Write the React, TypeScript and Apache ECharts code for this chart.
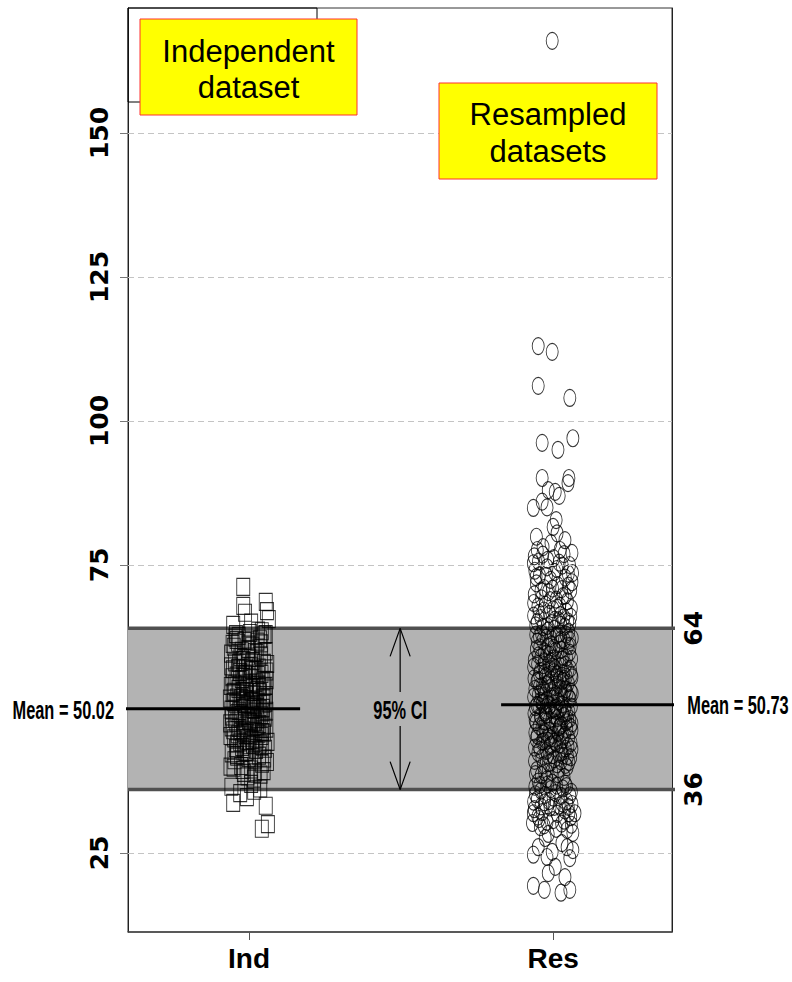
import React, { useEffect, useRef } from "react";
import * as echarts from "echarts";

const categories = ["Ind", "Res"];
const categoryPositions = [1, 2];
const yTickValues = [25, 75, 100, 125, 150];
const ciBounds = [36, 64];
const means = [50.02, 50.73];
const ciLabel = "95% CI";
const boxTexts = ["Independent\ndataset", "Resampled\ndatasets"];

// [jitter, value] for the independent dataset
const indPoints: number[][] = [
  [-0.019, 71.2], [-0.019, 67.9], [0.055, 68.6], [-0.013, 66.7], [0.059, 67.0], [0.065, 65.6], [-0.052, 64.6], [0.007, 65.0], [0.042, 63.5], [-0.043, 63.0],
  [-0.052, 33.7], [-0.007, 34.7], [0.055, 33.2], [0.042, 29.2], [0.062, 30.0], [-0.029, 35.4], [0.017, 35.8], [-0.058, 36.5], [0.037, 36.2], [0.007, 37.0],
  [-0.061, 45.3], [-0.054, 52.8], [-0.046, 58.1], [-0.039, 41.7], [-0.032, 49.6], [-0.024, 55.2], [-0.017, 38.9], [-0.009, 47.1], [-0.002, 60.4], [0.006, 51.3], [0.013, 43.8], [0.021, 56.7], [0.028, 48.2], [0.036, 62.1], [0.043, 40.5], [0.05, 53.9], [0.057, 46.6],
  [-0.059, 57.4], [-0.051, 39.8], [-0.044, 50.9], [-0.036, 61.5], [-0.029, 44.2], [-0.021, 53.1], [-0.014, 47.9], [-0.006, 42.6], [0.001, 58.8], [0.009, 49.0], [0.016, 37.9], [0.024, 54.6], [0.031, 45.7], [0.039, 59.3], [0.046, 50.2], [0.053, 43.1],
  [-0.063, 51.8], [-0.056, 48.7], [-0.049, 44.9], [-0.041, 55.8], [-0.034, 62.7], [-0.026, 40.1], [-0.019, 52.2], [-0.011, 57.0], [-0.004, 45.0], [0.004, 54.1], [0.011, 61.0], [0.019, 41.2], [0.026, 50.6], [0.034, 47.4], [0.041, 56.1], [0.048, 39.2], [0.055, 60.0],
  [-0.057, 42.3], [-0.05, 60.8], [-0.042, 47.6], [-0.035, 53.5], [-0.027, 46.1], [-0.02, 58.5], [-0.012, 50.4], [-0.005, 38.3], [0.003, 63.2], [0.01, 44.6], [0.018, 52.5], [0.025, 59.7], [0.033, 41.9], [0.04, 48.9], [0.047, 54.8], [0.054, 51.1], [0.06, 57.8],
  [-0.06, 54.0], [-0.052, 46.3], [-0.045, 62.4], [-0.038, 49.3], [-0.03, 56.4], [-0.023, 43.4], [-0.015, 61.8], [-0.008, 53.7], [0.0, 48.0], [0.007, 39.5], [0.015, 46.9], [0.022, 51.6], [0.03, 63.6], [0.037, 44.0], [0.045, 52.0], [0.052, 48.5], [0.059, 40.8],
  [-0.058, 49.9], [-0.047, 54.3], [-0.037, 45.6], [-0.028, 59.0], [-0.016, 51.0], [-0.007, 44.4], [0.002, 55.5], [0.014, 50.0], [0.023, 42.9], [0.032, 57.2], [0.044, 49.4], [0.051, 62.9], [0.058, 55.0],
  [-0.053, 56.9], [-0.04, 42.0], [-0.031, 51.5], [-0.018, 46.4], [-0.001, 61.2], [0.008, 53.0], [0.02, 47.8], [0.029, 55.9], [0.038, 38.6], [0.049, 45.9], [0.056, 52.4],
  [-0.062, 47.5], [-0.055, 55.5], [-0.048, 41.1], [-0.04, 52.0], [-0.033, 58.0], [-0.025, 49.0], [-0.017, 43.0], [-0.01, 54.4], [-0.003, 50.8], [0.005, 45.4], [0.012, 58.3], [0.02, 39.0], [0.027, 53.3], [0.035, 50.1], [0.042, 43.6], [0.049, 58.0], [0.057, 49.7],
  [-0.061, 40.0], [-0.054, 61.3], [-0.046, 48.3], [-0.039, 44.0], [-0.032, 53.9], [-0.024, 60.1], [-0.017, 45.8], [-0.009, 51.7], [-0.002, 41.5], [0.006, 57.5], [0.013, 53.6], [0.021, 46.2], [0.028, 61.7], [0.036, 52.9], [0.043, 46.0], [0.05, 41.4], [0.057, 56.5],
  [-0.059, 59.6], [-0.051, 51.2], [-0.043, 43.2], [-0.036, 57.1], [-0.028, 48.5], [-0.021, 39.4], [-0.013, 56.0], [-0.005, 48.8], [0.002, 43.7], [0.01, 56.8], [0.017, 50.4], [0.025, 44.7], [0.032, 54.2], [0.04, 61.4], [0.047, 47.0], [0.054, 54.0], [0.061, 44.3],
  [-0.057, 46.8], [-0.049, 53.0], [-0.041, 62.0], [-0.034, 46.7], [-0.026, 51.9], [-0.019, 55.6], [-0.011, 42.5], [-0.004, 59.1], [0.004, 47.7], [0.011, 51.4], [0.019, 59.9], [0.026, 47.0], [0.034, 53.8], [0.041, 45.3], [0.048, 50.9], [0.055, 63.0],
];

// [jitter, value] for the resampled datasets
const resPoints: number[][] = [
  [-0.003, 166.0], [-0.049, 113.0], [-0.003, 112.0], [-0.049, 106.1], [0.055, 104.0], [0.065, 97.0], [-0.036, 96.2], [0.016, 95.0],
  [-0.036, 90.1], [0.052, 90.1], [0.049, 89.2], [-0.016, 88.0], [0.007, 87.7], [0.02, 87.0], [-0.065, 84.9], [-0.036, 86.0], [-0.02, 85.0],
  [0.01, 82.8], [0.0, 81.6], [0.013, 80.5], [-0.055, 79.9], [0.039, 79.3], [0.062, 77.1], [-0.052, 77.6], [-0.033, 78.1], [-0.007, 78.8], [0.023, 77.6], [-0.065, 75.3], [0.062, 72.0],
  [-0.065, 19.3], [-0.029, 18.6], [0.026, 18.1], [0.055, 18.6], [-0.016, 21.5], [0.039, 20.8], [0.007, 22.6], [-0.065, 24.7], [-0.02, 24.3], [0.055, 24.1], [0.065, 25.5],
  [-0.049, 26.0], [0.029, 26.7], [-0.003, 25.2], [-0.042, 29.5], [0.046, 29.0], [-0.068, 30.2], [0.072, 31.9], [-0.065, 31.9], [0.0, 30.7], [-0.026, 27.6], [0.046, 26.0], [0.065, 28.5],
  [-0.06, 74.0], [-0.045, 73.2], [-0.02, 74.6], [0.005, 73.8], [0.03, 74.9], [0.05, 73.5], [-0.055, 71.8], [-0.03, 71.0], [-0.008, 72.4], [0.015, 71.5], [0.04, 72.8], [0.058, 70.6],
  [-0.062, 69.9], [-0.038, 69.2], [-0.015, 70.3], [0.01, 69.0], [0.028, 70.8], [0.047, 68.7], [-0.05, 67.8], [-0.025, 68.1], [0.0, 67.3], [0.022, 67.9], [0.044, 66.9], [0.06, 67.5],
  [-0.064, 66.2], [-0.04, 65.8], [-0.012, 66.5], [0.018, 65.4], [0.035, 65.9], [0.055, 64.8], [-0.057, 64.5], [-0.033, 64.2], [-0.005, 64.9], [0.026, 64.6], [0.048, 65.2],
  [-0.06, 36.5], [-0.04, 35.8], [-0.018, 36.9], [0.008, 35.4], [0.032, 36.2], [0.055, 35.0], [-0.052, 34.3], [-0.028, 33.8], [0.0, 34.6], [0.02, 33.2], [0.045, 34.0], [0.062, 33.5],
  [-0.062, 32.6], [-0.036, 32.1], [-0.01, 32.9], [0.014, 31.8], [0.038, 32.4], [0.058, 31.2], [-0.046, 30.9], [-0.02, 30.4], [0.028, 30.1], [0.05, 33.0], [-0.003, 37.2], [0.04, 37.0],
  [-0.064, 52.1], [-0.056, 44.8], [-0.048, 59.3], [-0.04, 48.6], [-0.032, 40.2], [-0.024, 55.7], [-0.016, 50.9], [-0.008, 62.3], [0.0, 45.5], [0.008, 53.8], [0.016, 38.7], [0.024, 57.4], [0.032, 49.2], [0.04, 43.1], [0.048, 61.0], [0.056, 51.7], [0.062, 46.3],
  [-0.062, 58.5], [-0.054, 39.4], [-0.046, 47.0], [-0.038, 63.1], [-0.03, 53.2], [-0.022, 42.7], [-0.014, 57.9], [-0.006, 49.8], [0.002, 60.6], [0.01, 44.0], [0.018, 51.3], [0.026, 40.9], [0.034, 56.2], [0.042, 47.7], [0.05, 54.5], [0.058, 41.6],
  [-0.06, 45.9], [-0.052, 61.7], [-0.044, 53.9], [-0.036, 44.3], [-0.028, 60.0], [-0.02, 37.8], [-0.012, 48.1], [-0.004, 55.0], [0.004, 41.3], [0.012, 62.8], [0.02, 46.8], [0.028, 52.6], [0.036, 38.2], [0.044, 58.9], [0.052, 49.5], [0.06, 55.9],
  [-0.058, 50.3], [-0.05, 42.4], [-0.042, 56.6], [-0.034, 51.1], [-0.026, 46.0], [-0.018, 63.6], [-0.01, 43.7], [-0.002, 52.9], [0.006, 57.1], [0.014, 48.4], [0.022, 61.4], [0.03, 44.6], [0.038, 50.0], [0.046, 39.9], [0.054, 59.8], [0.062, 47.5],
  [-0.063, 55.3], [-0.047, 50.6], [-0.039, 38.5], [-0.031, 57.6], [-0.023, 49.0], [-0.015, 40.6], [-0.007, 58.2], [0.001, 51.8], [0.009, 47.3], [0.017, 54.2], [0.025, 62.0], [0.033, 45.2], [0.041, 53.4], [0.049, 43.5], [0.057, 57.0],
  [-0.061, 41.0], [-0.053, 54.8], [-0.045, 62.6], [-0.037, 46.6], [-0.029, 52.3], [-0.021, 59.6], [-0.013, 45.1], [-0.005, 39.1], [0.003, 56.4], [0.011, 50.5], [0.019, 42.2], [0.027, 60.3], [0.035, 48.8], [0.043, 55.6], [0.051, 63.4], [0.059, 44.1],
  [-0.059, 48.0], [-0.051, 57.8], [-0.043, 42.9], [-0.035, 54.0], [-0.027, 49.4], [-0.019, 44.5], [-0.011, 53.6], [-0.003, 47.2], [0.005, 63.9], [0.013, 40.4], [0.021, 55.1], [0.029, 50.8], [0.037, 61.9], [0.045, 46.5], [0.053, 51.9], [0.061, 58.7],
  [-0.057, 62.9], [-0.041, 51.4], [-0.025, 47.8], [-0.009, 56.9], [0.007, 49.7], [0.023, 43.9], [0.039, 53.1], [0.055, 48.3], [-0.049, 37.4], [-0.017, 60.9], [0.015, 58.4], [0.047, 41.8], [-0.033, 45.7], [0.031, 54.9], [-0.001, 42.0], [0.063, 52.7],
  [-0.063, 49.2], [-0.055, 60.4], [-0.047, 43.6], [-0.039, 52.8], [-0.031, 47.9], [-0.023, 62.4], [-0.015, 54.6], [-0.007, 44.9], [0.001, 58.8], [0.009, 50.2], [0.017, 45.8], [0.025, 53.6], [0.033, 59.1], [0.041, 40.3], [0.049, 56.7], [0.057, 46.9], [0.063, 62.3],
  [-0.061, 43.3], [-0.053, 50.7], [-0.045, 56.1], [-0.037, 41.5], [-0.029, 58.3], [-0.021, 51.6], [-0.013, 46.2], [-0.005, 61.2], [0.003, 48.9], [0.011, 55.4], [0.019, 39.6], [0.027, 47.2], [0.035, 52.1], [0.043, 62.9], [0.051, 45.0], [0.059, 53.0],
  [-0.064, 57.3], [-0.056, 47.7], [-0.048, 52.5], [-0.04, 59.0], [-0.032, 44.4], [-0.024, 49.7], [-0.016, 55.9], [-0.008, 40.7], [0.0, 52.3], [0.008, 60.1], [0.016, 46.0], [0.024, 50.0], [0.032, 41.9], [0.04, 57.7], [0.048, 48.1], [0.056, 60.9], [0.062, 43.0],
  [-0.06, 53.5], [-0.052, 45.4], [-0.044, 60.7], [-0.036, 50.9], [-0.028, 39.0], [-0.02, 54.3], [-0.012, 59.4], [-0.004, 43.8], [0.004, 50.0], [0.012, 56.0], [0.02, 63.1], [0.028, 42.5], [0.036, 55.2], [0.044, 49.3], [0.052, 40.8], [0.06, 50.4],
  [-0.058, 38.7], [-0.05, 55.0], [-0.042, 48.8], [-0.034, 61.8], [-0.026, 56.3], [-0.018, 42.0], [-0.01, 50.6], [-0.002, 57.4], [0.006, 44.3], [0.014, 52.2], [0.022, 47.0], [0.03, 58.6], [0.038, 45.5], [0.046, 52.8], [0.054, 62.0], [0.062, 55.5],
  [-0.062, 76.5], [-0.048, 75.6], [-0.034, 76.8], [-0.018, 75.9], [0.002, 76.2], [0.02, 75.4], [0.036, 76.9], [0.054, 75.0], [-0.056, 72.9], [-0.04, 70.5], [-0.022, 73.1], [-0.002, 70.9], [0.012, 74.3], [0.032, 69.6],
  [0.05, 71.4], [0.064, 73.6], [-0.064, 68.4], [-0.046, 66.7], [-0.03, 67.1], [-0.01, 68.9], [0.006, 65.5], [0.024, 66.3], [0.04, 69.7], [0.058, 66.0], [-0.052, 65.1], [-0.02, 64.4], [0.014, 67.6], [0.038, 64.3],
  [-0.058, 35.2], [-0.044, 36.8], [-0.026, 35.1], [-0.008, 36.1], [0.012, 36.7], [0.026, 34.9], [0.044, 36.6], [0.06, 35.6], [-0.064, 33.9], [-0.04, 33.1],
  [-0.014, 34.0], [0.004, 33.0], [0.03, 33.6], [0.052, 31.9], [-0.05, 31.3], [-0.03, 29.8], [0.01, 29.2], [0.036, 30.6], [0.06, 29.9], [-0.016, 28.3],
];

const X_MIN = 0.602;
const X_MAX = 2.391;
const Y_MIN = 11.28;
const Y_MAX = 171.7;
const BOLD_ARIAL = "'Liberation Sans', Arial, sans-serif";
const WIDE = "'DejaVu Sans', Verdana, sans-serif";
const ELLIPSE = "path://M0,8.5 A6,8.5 0 1,1 12,8.5 A6,8.5 0 1,1 0,8.5 Z";
const NARROW_FONT = "bold 26px 'Liberation Sans', Arial, sans-serif";
const NARROW_SCALE = 0.63;

export default function App() {
  const ref = useRef<HTMLDivElement>(null);
  useEffect(() => {
    if (!ref.current) return;
    const chart = echarts.init(ref.current, null, { renderer: "svg" });
    const ciX = 1.497;
    const wing = 0.033;
    const meanLeftStart = 0.579;
    const meanLeftEnd = 1.168;
    const meanRightStart = 1.829;
    const meanRightEnd = 2.428;
    const option: any = {
      animation: false,
      backgroundColor: "#ffffff",
      grid: {
        left: 128, top: 8, width: 544, height: 924,
        show: true, borderColor: "#333", borderWidth: 1, backgroundColor: "transparent",
      },
      xAxis: {
        type: "value", min: X_MIN, max: X_MAX,
        axisLine: { show: true, onZero: false, lineStyle: { color: "#444", width: 1.5 } },
        splitLine: { show: false },
        axisTick: { show: true, customValues: categoryPositions, length: 8, lineStyle: { color: "#555" } },
        axisLabel: {
          customValues: categoryPositions, margin: 12,
          formatter: (v: number) => categories[categoryPositions.indexOf(Math.round(v))] ?? "",
          fontFamily: BOLD_ARIAL, fontWeight: "bold", fontSize: 28, color: "#000",
        },
      },
      yAxis: [
        {
          type: "value", min: Y_MIN, max: Y_MAX, position: "left",
          axisLine: { show: true, onZero: false, lineStyle: { color: "#222" } },
          splitLine: { show: false },
          axisTick: { show: true, customValues: yTickValues, length: 8, lineStyle: { color: "#777" } },
          axisLabel: {
            customValues: yTickValues, rotate: 90, margin: 16,
            fontFamily: WIDE, fontWeight: "bold", fontSize: 25, color: "#000",
          },
        },
        {
          type: "value", min: Y_MIN, max: Y_MAX, position: "right",
          axisLine: { show: true, onZero: false, lineStyle: { color: "#222" } },
          splitLine: { show: false },
          axisTick: { show: false },
          axisLabel: {
            customValues: ciBounds, rotate: 90, margin: 9,
            fontFamily: WIDE, fontWeight: "bold", fontSize: 25, color: "#000",
          },
        },
      ],
      series: [
        {
          type: "line", data: [], silent: true, z: 1,
          markArea: {
            silent: true,
            itemStyle: { color: "#b3b3b3" },
            data: [[{ yAxis: ciBounds[0] }, { yAxis: ciBounds[1] }]],
          },
          markLine: {
            silent: true, symbol: "none", label: { show: false },
            lineStyle: { type: [6, 4], color: "#c4c4c4", width: 1 },
            data: yTickValues.map((v) => ({ yAxis: v })),
          },
        },
        ...ciBounds.map((b) => ({
          type: "line", silent: true, z: 2, clip: false, symbol: "none",
          lineStyle: { color: "#505050", width: 3.5 },
          data: [[X_MIN, b], [meanRightEnd, b]],
        })),
        {
          type: "scatter", silent: true, z: 3,
          symbol: "rect", symbolSize: [13, 17],
          itemStyle: { color: "rgba(0,0,0,0)", borderColor: "#000", borderWidth: 1 },
          data: indPoints.map(([dx, y]) => [categoryPositions[0] + dx, y]),
        },
        {
          type: "scatter", silent: true, z: 3,
          symbol: ELLIPSE, symbolSize: [12, 17],
          itemStyle: { color: "rgba(0,0,0,0)", borderColor: "#000", borderWidth: 1 },
          data: resPoints.map(([dx, y]) => [categoryPositions[1] + dx, y]),
        },
        {
          type: "line", silent: true, z: 5, clip: false, symbol: "none",
          lineStyle: { color: "#000", width: 3 },
          data: [[meanLeftStart, means[0]], [meanLeftEnd, means[0]]],
        },
        {
          type: "line", silent: true, z: 5, clip: false, symbol: "none",
          lineStyle: { color: "#000", width: 3 },
          data: [[meanRightStart, means[1]], [meanRightEnd, means[1]]],
        },
        {
          type: "line", silent: true, z: 5, symbol: "none",
          lineStyle: { color: "#000", width: 1.2 },
          data: [[ciX, ciBounds[1]], [ciX, 52.95]],
        },
        {
          type: "line", silent: true, z: 5, symbol: "none",
          lineStyle: { color: "#000", width: 1.2 },
          data: [[ciX - wing, ciBounds[1] - 4.86], [ciX, ciBounds[1]], [ciX + wing, ciBounds[1] - 4.86]],
        },
        {
          type: "line", silent: true, z: 5, symbol: "none",
          lineStyle: { color: "#000", width: 1.2 },
          data: [[ciX, 47.05], [ciX, ciBounds[0]]],
        },
        {
          type: "line", silent: true, z: 5, symbol: "none",
          lineStyle: { color: "#000", width: 1.2 },
          data: [[ciX - wing, ciBounds[0] + 4.86], [ciX, ciBounds[0]], [ciX + wing, ciBounds[0] + 4.86]],
        },
      ],
    };
    chart.setOption(option);

    const toPx = (p: number[]) => chart.convertToPixel({ gridIndex: 0 }, p) as number[];
    const lm = toPx([meanLeftStart, means[0]]);
    const rm = toPx([meanRightEnd, means[1]]);
    const ci = toPx([ciX, 49.9]);
    chart.setOption({
      graphic: [
        { type: "rect", shape: { x: 128, y: 8, width: 189, height: 94 }, style: { fill: "none", stroke: "#000", lineWidth: 1 }, z: 100 },
        { type: "rect", shape: { x: 140, y: 19, width: 217, height: 96 }, style: { fill: "#ffff00", stroke: "#ff3030", lineWidth: 1 }, z: 101 },
        { type: "text", x: 248.5, y: 69.5, style: { text: boxTexts[0], fill: "#000", font: "31px 'Liberation Sans', Arial, sans-serif", align: "center", verticalAlign: "middle", lineHeight: 36 }, z: 102 },
        { type: "rect", shape: { x: 439, y: 83, width: 218, height: 96 }, style: { fill: "#ffff00", stroke: "#ff3030", lineWidth: 1 }, z: 101 },
        { type: "text", x: 548, y: 132.5, style: { text: boxTexts[1], fill: "#000", font: "31px 'Liberation Sans', Arial, sans-serif", align: "center", verticalAlign: "middle", lineHeight: 37 }, z: 102 },
        { type: "text", x: lm[0] - 7, y: lm[1] + 1, scaleX: NARROW_SCALE, style: { text: `Mean = ${means[0].toFixed(2)}`, fill: "#000", font: NARROW_FONT, align: "right", verticalAlign: "middle" }, z: 102 },
        { type: "text", x: rm[0] + 4, y: rm[1], scaleX: NARROW_SCALE, style: { text: `Mean = ${means[1].toFixed(2)}`, fill: "#000", font: NARROW_FONT, align: "left", verticalAlign: "middle" }, z: 102 },
        { type: "text", x: ci[0], y: ci[1], scaleX: NARROW_SCALE, style: { text: ciLabel, fill: "#000", font: NARROW_FONT, align: "center", verticalAlign: "middle" }, z: 102 },
      ],
    });
    return () => chart.dispose();
  }, []);
  return <div ref={ref} style={{ position: "absolute", left: 0, top: 0, width: 792, height: 982 }} />;
}
